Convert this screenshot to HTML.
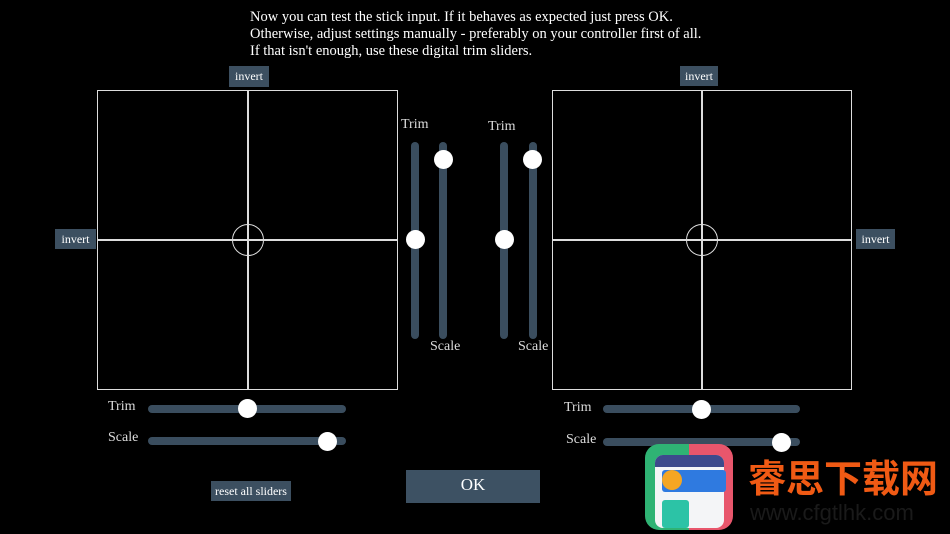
<!DOCTYPE html><html><head><style>
body{margin:0;width:950px;height:534px;background:#000;position:relative;overflow:hidden;font-family:"Liberation Serif",serif;color:#fff}
div{position:absolute;box-sizing:border-box}
.box{border:1.5px solid #ddd}
.btn{background:#3c4f60;color:#fff;font-size:12px;text-align:center;line-height:20px}
.vt{width:8px;border-radius:4px;background:#3a4d5e}
.ht{height:8px;border-radius:4px;background:#3a4d5e}
.k{width:19px;height:19px;border-radius:50%;background:#fff}
.l{font-size:14px;color:#ddd}
.ln{background:#ddd}
</style></head><body>
<div style="left:250px;top:9px;font-size:14.5px;line-height:17px;white-space:nowrap">Now you can test the stick input. If it behaves as expected just press OK.<br>Otherwise, adjust settings manually - preferably on your controller first of all.<br>If that isn't enough, use these digital trim sliders.</div>
<div class="box" style="left:97px;top:90px;width:301px;height:300px"></div>
<div class="ln" style="left:97px;top:239px;width:301px;height:1.5px"></div>
<div class="ln" style="left:247px;top:90px;width:1.5px;height:300px"></div>
<div style="left:232px;top:224px;width:32px;height:32px;border:1.5px solid #ddd;border-radius:50%"></div>
<div class="box" style="left:552px;top:90px;width:300px;height:300px"></div>
<div class="ln" style="left:552px;top:239px;width:300px;height:1.5px"></div>
<div class="ln" style="left:701px;top:90px;width:1.5px;height:300px"></div>
<div style="left:686px;top:224px;width:32px;height:32px;border:1.5px solid #ddd;border-radius:50%"></div>
<div class="btn" style="left:229px;top:66px;width:40px;height:21px">invert</div>
<div class="btn" style="left:55px;top:229px;width:41px;height:20px">invert</div>
<div class="btn" style="left:680px;top:66px;width:38px;height:20px">invert</div>
<div class="btn" style="left:856px;top:229px;width:39px;height:20px">invert</div>
<div class="vt" style="left:411px;top:142px;height:197px"></div>
<div class="vt" style="left:439px;top:142px;height:197px"></div>
<div class="vt" style="left:500px;top:142px;height:197px"></div>
<div class="vt" style="left:529px;top:142px;height:197px"></div>
<div class="k" style="left:406px;top:230px"></div>
<div class="k" style="left:434px;top:150px"></div>
<div class="k" style="left:495px;top:230px"></div>
<div class="k" style="left:523px;top:150px"></div>
<div class="l" style="left:401px;top:117px">Trim</div>
<div class="l" style="left:488px;top:119px">Trim</div>
<div class="l" style="left:430px;top:339px">Scale</div>
<div class="l" style="left:518px;top:339px">Scale</div>
<div class="ht" style="left:148px;top:405px;width:198px"></div>
<div class="ht" style="left:148px;top:437px;width:198px"></div>
<div class="k" style="left:238px;top:399px"></div>
<div class="k" style="left:318px;top:432px"></div>
<div class="l" style="left:108px;top:399px">Trim</div>
<div class="l" style="left:108px;top:430px">Scale</div>
<div class="ht" style="left:603px;top:405px;width:197px"></div>
<div class="ht" style="left:603px;top:438px;width:197px"></div>
<div class="k" style="left:692px;top:400px"></div>
<div class="k" style="left:772px;top:433px"></div>
<div class="l" style="left:564px;top:400px">Trim</div>
<div class="l" style="left:566px;top:432px">Scale</div>
<div class="btn" style="left:211px;top:481px;width:80px;height:20px">reset all sliders</div>
<div class="btn" style="left:406px;top:470px;width:134px;height:33px;line-height:30px;font-size:17px;background:#3d5163">OK</div>
<div style="left:645px;top:444px;width:88px;height:86px;border-radius:14px;background:linear-gradient(90deg,#2fb374 50%,#e8566c 50%)"></div>
<div style="left:655px;top:455px;width:69px;height:73px;border-radius:8px;background:#f4f5f7"></div>
<div style="left:655px;top:455px;width:69px;height:12px;border-radius:8px 8px 0 0;background:#3d4a8c"></div>
<div style="left:662px;top:470px;width:64px;height:22px;border-radius:3px;background:#2f7ae0"></div>
<div style="left:662px;top:470px;width:20px;height:20px;border-radius:50%;background:#f5a623"></div>
<div style="left:662px;top:500px;width:27px;height:28px;border-radius:3px;background:#2cc3a6"></div>
<div style="left:748px;top:456px;font-family:'Noto Sans CJK SC',sans-serif;font-weight:bold;font-size:38px;line-height:40px;color:#f05a14;white-space:nowrap">睿思下载网</div>
<div style="left:750px;top:500px;font-family:'Liberation Sans',sans-serif;font-size:22px;color:#1a1a1a;white-space:nowrap">www.cfgtlhk.com</div>
</body></html>
